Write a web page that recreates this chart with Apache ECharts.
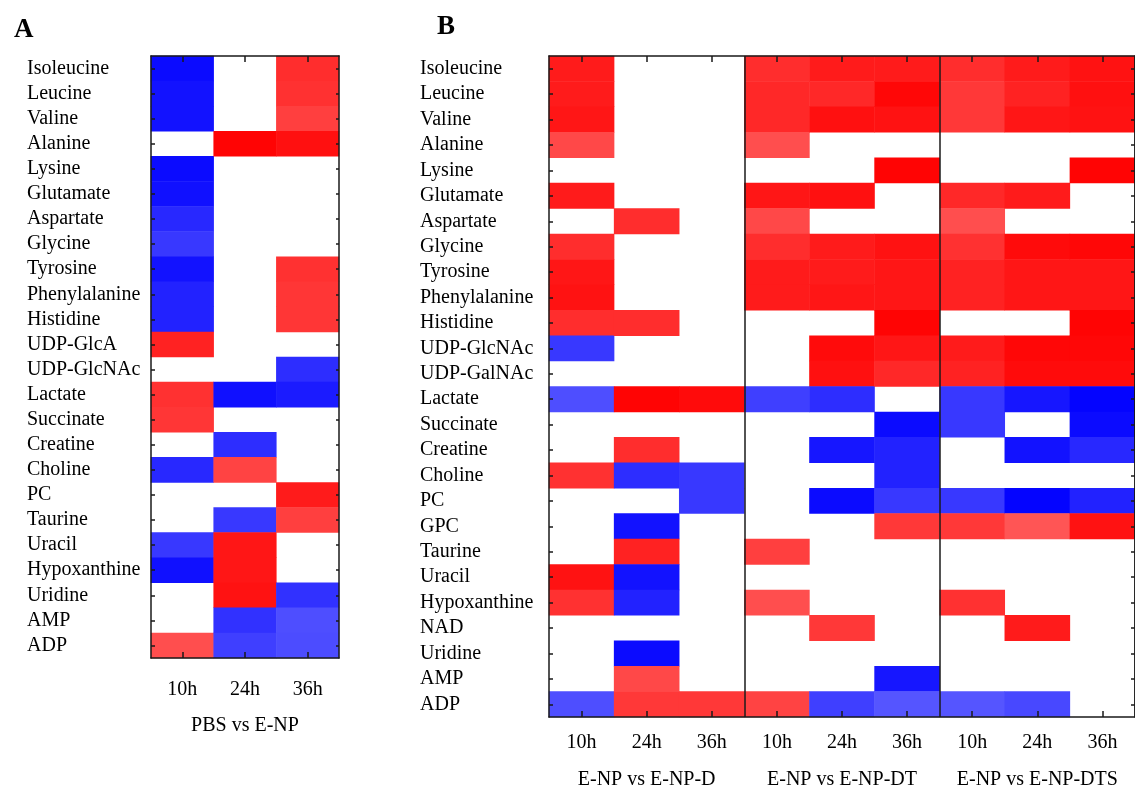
<!DOCTYPE html>
<html>
<head>
<meta charset="utf-8">
<script src="https://cdn.jsdelivr.net/npm/echarts@6/dist/echarts.min.js"></script>
<style>
  html, body { margin: 0; padding: 0; background: #fff; }
  #main { width: 1135px; height: 790px; }
</style>
</head>
<body>
<div id="main"></div>
<script>
// ---- data ----
const hours = ['10h', '24h', '36h'];

// panel A : PBS vs E-NP
const rowsA = ['Isoleucine', 'Leucine', 'Valine', 'Alanine', 'Lysine', 'Glutamate', 'Aspartate',
  'Glycine', 'Tyrosine', 'Phenylalanine', 'Histidine', 'UDP-GlcA', 'UDP-GlcNAc', 'Lactate',
  'Succinate', 'Creatine', 'Choline', 'PC', 'Taurine', 'Uracil', 'Hypoxanthine', 'Uridine', 'AMP', 'ADP'];
const groupA = ['PBS vs E-NP'];
const pbs10h = [-0.95, -0.92, -0.92, null, -0.95, -0.93, -0.82, -0.75, -0.92, -0.85, -0.85, 0.85,
  null, 0.78, 0.76, null, -0.82, null, null, -0.75, -0.93, null, null, 0.65];
const pbs24h = [null, null, null, 0.98, null, null, null, null, null, null, null, null,
  null, -0.93, null, -0.8, 0.7, null, -0.75, 0.9, 0.9, 0.92, -0.78, -0.72];
const pbs36h = [0.8, 0.78, 0.72, 0.93, null, null, null, null, 0.78, 0.76, 0.76, null,
  -0.8, -0.88, null, null, null, 0.88, 0.72, null, null, -0.78, -0.65, -0.66];

// panel B
const rowsB = ['Isoleucine', 'Leucine', 'Valine', 'Alanine', 'Lysine', 'Glutamate', 'Aspartate',
  'Glycine', 'Tyrosine', 'Phenylalanine', 'Histidine', 'UDP-GlcNAc', 'UDP-GalNAc', 'Lactate',
  'Succinate', 'Creatine', 'Choline', 'PC', 'GPC', 'Taurine', 'Uracil', 'Hypoxanthine', 'NAD',
  'Uridine', 'AMP', 'ADP'];
const groupB = ['E-NP vs E-NP-D', 'E-NP vs E-NP-DT', 'E-NP vs E-NP-DTS'];
const d10h = [0.88, 0.88, 0.9, 0.68, null, 0.88, null, 0.8, 0.9, 0.92, 0.8, -0.75, null,
  -0.65, null, null, 0.78, null, null, null, 0.92, 0.78, null, null, null, -0.65];
const d24h = [null, null, null, null, null, null, 0.8, null, null, null, 0.8, null, null,
  0.98, null, 0.8, -0.8, null, -0.92, 0.85, -0.92, -0.85, null, -0.95, 0.68, 0.75];
const d36h = [null, null, null, null, null, null, null, null, null, null, null, null, null,
  0.95, null, null, -0.75, -0.75, null, null, null, null, null, null, null, 0.75];
const dt10h = [0.8, 0.82, 0.82, 0.65, null, 0.9, 0.68, 0.8, 0.88, 0.88, null, null, null,
  -0.72, null, null, null, null, null, 0.72, null, 0.65, null, null, null, 0.7];
const dt24h = [0.88, 0.82, 0.93, null, null, 0.93, null, 0.88, 0.88, 0.9, null, 0.95, 0.93,
  -0.8, null, -0.9, null, -0.95, null, null, null, null, 0.75, null, null, -0.72];
const dt36h = [0.88, 0.97, 0.92, null, 0.98, null, null, 0.92, 0.9, 0.9, 0.98, 0.9, 0.82,
  null, -0.95, -0.85, -0.85, -0.75, 0.75, null, null, null, null, null, -0.9, -0.62];
const dts10h = [0.8, 0.75, 0.75, null, null, 0.82, 0.65, 0.78, 0.85, 0.85, null, 0.88, 0.85,
  -0.75, -0.75, null, null, -0.75, 0.75, null, null, 0.78, null, null, null, -0.62];
const dts24h = [0.88, 0.85, 0.9, null, null, 0.88, null, 0.95, 0.9, 0.9, null, 0.97, 0.95,
  -0.9, null, -0.92, null, -0.98, 0.62, null, null, null, 0.88, null, null, -0.68];
const dts36h = [0.92, 0.93, 0.92, null, 0.98, null, null, 0.97, 0.9, 0.9, 0.98, 0.97, 0.95,
  -0.98, -0.95, -0.82, null, -0.85, 0.92, null, null, null, null, null, null, null];

const colsA = [pbs10h, pbs24h, pbs36h];
const colsB = [d10h, d24h, d36h, dt10h, dt24h, dt36h, dts10h, dts24h, dts36h];
const hoursB = hours.concat(hours, hours);

function cells(cols) {
  const out = [];
  cols.forEach((col, x) => {
    col.forEach((v, y) => {
      if (v !== null) out.push([x, y, v]);
    });
  });
  return out;
}

// ---- chart ----
const FONT = 'Liberation Serif';
const INK = '#1a1a1a';
const line = { show: true, lineStyle: { color: INK, width: 1.5 } };

function tick(len) {
  return { show: true, inside: true, alignWithLabel: true, interval: 0, length: len, lineStyle: { color: INK, width: 1.5 } };
}
const lbl = { color: '#000', fontFamily: FONT, fontSize: 20, interval: 0 };

let myChart = echarts.init(document.getElementById('main'));
myChart.setOption({
  backgroundColor: '#fff',
  animation: false,
  title: [
    { text: 'A', left: 9, top: 12, textStyle: { fontFamily: FONT, fontWeight: 'bold', fontSize: 27, color: '#000' } },
    { text: 'B', left: 432, top: 9, textStyle: { fontFamily: FONT, fontWeight: 'bold', fontSize: 27, color: '#000' } }
  ],
  grid: [
    { left: 151, top: 56, width: 188, height: 602 },
    { left: 549, top: 56, width: 589, height: 662 }
  ],
  visualMap: {
    show: false,
    type: 'continuous',
    min: -1,
    max: 1,
    dimension: 2,
    inRange: { color: ['#0000ff', '#7070ff', '#ffffff', '#ff7070', '#ff0000'] }
  },
  xAxis: [
    // panel A
    { type: 'category', gridIndex: 0, position: 'bottom', data: hours, z: 10,
      axisLine: line, axisTick: tick(6), splitLine: { show: false },
      axisLabel: Object.assign({ margin: 22 }, lbl) },
    { type: 'category', gridIndex: 0, position: 'top', data: hours, z: 10,
      axisLine: line, axisTick: tick(6), axisLabel: { show: false } },
    { type: 'category', gridIndex: 0, position: 'bottom', data: groupA, z: 10,
      axisLine: { show: false }, axisTick: { show: false },
      axisLabel: Object.assign({ margin: 58 }, lbl) },
    // panel B
    { type: 'category', gridIndex: 1, position: 'bottom', data: hoursB, z: 10,
      axisLine: line, axisTick: tick(6),
      splitLine: { show: true, interval: function (i) { return i === 3 || i === 6; },
        lineStyle: { color: INK, width: 1.5 } },
      axisLabel: Object.assign({ margin: 16 }, lbl) },
    { type: 'category', gridIndex: 1, position: 'top', data: hoursB, z: 10,
      axisLine: line, axisTick: tick(6), axisLabel: { show: false } },
    { type: 'category', gridIndex: 1, position: 'bottom', data: groupB, z: 10,
      axisLine: { show: false }, axisTick: { show: false },
      axisLabel: Object.assign({ margin: 53 }, lbl) }
  ],
  yAxis: [
    { type: 'category', gridIndex: 0, position: 'left', inverse: true, data: rowsA, z: 10,
      axisLine: line, axisTick: tick(4),
      axisLabel: Object.assign({ margin: 124, align: 'left' }, lbl) },
    { type: 'category', gridIndex: 0, position: 'right', inverse: true, data: rowsA, z: 10,
      axisLine: line, axisTick: tick(3), axisLabel: { show: false } },
    { type: 'category', gridIndex: 1, position: 'left', inverse: true, data: rowsB, z: 10,
      axisLine: line, axisTick: tick(4),
      axisLabel: Object.assign({ margin: 129, align: 'left' }, lbl) },
    { type: 'category', gridIndex: 1, position: 'right', inverse: true, data: rowsB, z: 10,
      axisLine: line, axisTick: tick(4), axisLabel: { show: false } }
  ],
  series: [
    { name: 'A', type: 'heatmap', xAxisIndex: 0, yAxisIndex: 0, data: cells(colsA),
      itemStyle: { borderWidth: 0 }, emphasis: { disabled: true } },
    { name: 'B', type: 'heatmap', xAxisIndex: 3, yAxisIndex: 2, data: cells(colsB),
      itemStyle: { borderWidth: 0 }, emphasis: { disabled: true } }
  ]
});
</script>
</body>
</html>
